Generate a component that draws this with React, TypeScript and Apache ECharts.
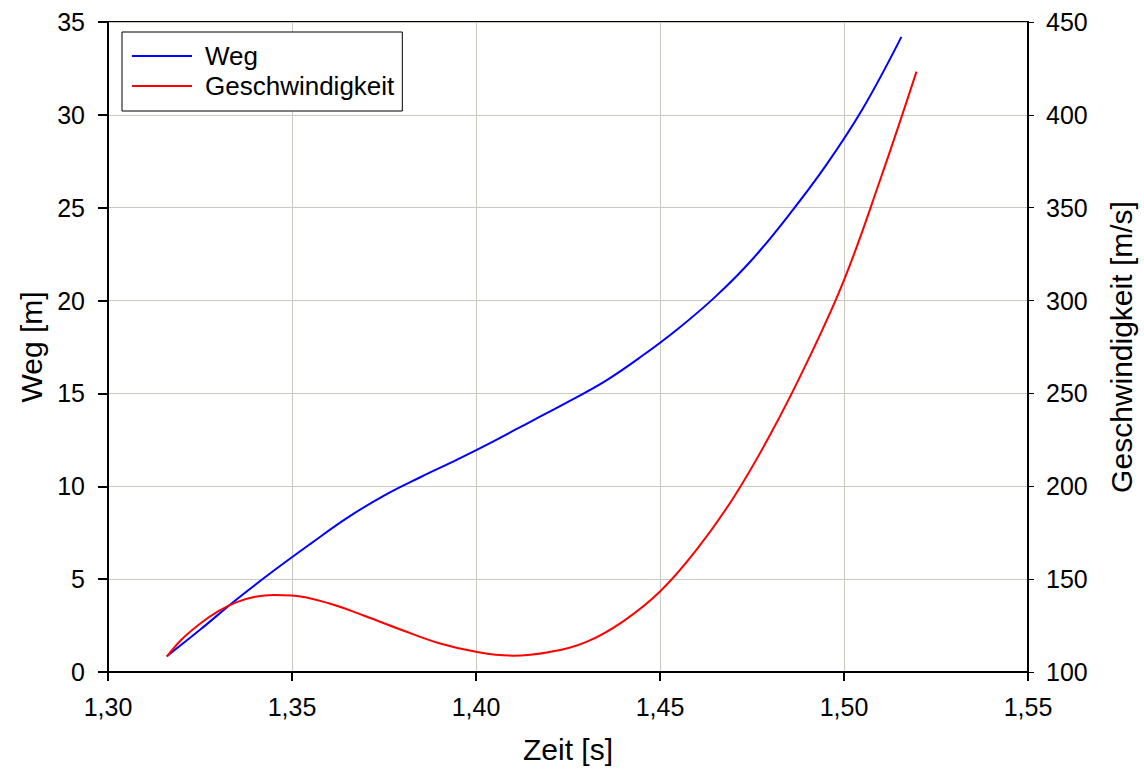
import React, { useEffect, useRef } from "react";
import * as echarts from "echarts";

const wegTime = [1.316, 1.325, 1.335, 1.345, 1.355, 1.365, 1.375, 1.385, 1.395, 1.405, 1.415, 1.425, 1.435, 1.445, 1.455, 1.465, 1.475, 1.485, 1.495, 1.505, 1.5156];
const wegValues = [0.85, 2.27, 3.92, 5.45, 6.9, 8.3, 9.5, 10.5, 11.45, 12.45, 13.5, 14.55, 15.65, 17.0, 18.5, 20.2, 22.2, 24.6, 27.25, 30.3, 34.2];

const vTime = [1.316, 1.32, 1.325, 1.33, 1.335, 1.34, 1.345, 1.35, 1.36, 1.37, 1.38, 1.39, 1.40, 1.41, 1.42, 1.43, 1.44, 1.45, 1.46, 1.47, 1.48, 1.49, 1.50, 1.51, 1.5197];
const vValues = [108.3, 117.5, 126, 132.8, 137.6, 140.5, 141.5, 141.2, 137, 130, 122.5, 115.5, 110.9, 108.8, 110.8, 116.2, 127.3, 143.3, 166, 194, 228, 267, 311, 366, 423.3];

const seriesNames = ["Weg", "Geschwindigkeit"];
const xTitle = "Zeit [s]";
const yLeftTitle = "Weg [m]";
const yRightTitle = "Geschwindigkeit [m/s]";

const FONT = "'Liberation Sans', Arial, sans-serif";

export default function App() {
  const ref = useRef<HTMLDivElement>(null);
  useEffect(() => {
    if (!ref.current) return;
    const chart = echarts.init(ref.current, undefined, { renderer: "svg" });
    const fmt = (v: number) => v.toFixed(2).replace(".", ",");
    chart.setOption({
      animation: false,
      backgroundColor: "#ffffff",
      textStyle: { fontFamily: FONT },
      grid: {
        left: 108,
        right: 116,
        top: 22,
        bottom: 100,
        show: true,
        borderColor: "#000",
        borderWidth: 2,
        backgroundColor: "transparent",
      },
      legend: {
        left: 122,
        top: 32,
        orient: "vertical",
        data: seriesNames,
        backgroundColor: "#fff",
        borderColor: "#000",
        borderWidth: 1,
        borderRadius: 0,
        padding: [11, 8, 12, 10],
        itemGap: 4,
        itemWidth: 60,
        itemHeight: 26,
        icon: "path://M0,12L60,12L60,14L0,14Z",
        textStyle: { fontSize: 26, color: "#000", fontFamily: FONT, padding: [0, 0, 0, 8] },
      },
      xAxis: {
        type: "value",
        min: 1.3,
        max: 1.55,
        interval: 0.05,
        name: xTitle,
        nameLocation: "middle",
        nameGap: 62,
        nameTextStyle: { fontSize: 30, color: "#000", fontFamily: FONT },
        axisLine: { show: true, lineStyle: { color: "#000", width: 2 } },
        axisTick: { show: true, inside: false, length: 9, lineStyle: { color: "#000", width: 2 } },
        axisLabel: { fontSize: 25, color: "#000", margin: 22, formatter: fmt, fontFamily: FONT },
        splitLine: { show: true, lineStyle: { color: "#c8c8c0", width: 1 } },
      },
      yAxis: [
        {
          type: "value",
          min: 0,
          max: 35,
          interval: 5,
          position: "left",
          name: yLeftTitle,
          nameLocation: "middle",
          nameRotate: 90,
          nameGap: 62,
          nameTextStyle: { fontSize: 30, color: "#000", fontFamily: FONT },
          axisLine: { show: true, lineStyle: { color: "#000", width: 2 } },
          axisTick: { show: true, inside: false, length: 10, lineStyle: { color: "#000", width: 2 } },
          axisLabel: { fontSize: 25, color: "#000", margin: 23, fontFamily: FONT },
          splitLine: { show: true, lineStyle: { color: "#c8c8c0", width: 1 } },
        },
        {
          type: "value",
          min: 100,
          max: 450,
          interval: 50,
          position: "right",
          name: yRightTitle,
          nameLocation: "middle",
          nameRotate: 90,
          nameGap: 78,
          nameTextStyle: { fontSize: 30, color: "#000", fontFamily: FONT },
          axisLine: { show: true, lineStyle: { color: "#000", width: 2 } },
          axisTick: { show: true, inside: false, length: 6, lineStyle: { color: "#000", width: 1 } },
          axisLabel: { fontSize: 25, color: "#000", margin: 18, fontFamily: FONT },
          splitLine: { show: false },
        },
      ],
      series: [
        {
          name: seriesNames[0],
          type: "line",
          yAxisIndex: 0,
          data: wegTime.map((t, i) => [t, wegValues[i]]),
          showSymbol: false,
          smooth: 0.4,
          lineStyle: { color: "#0000ff", width: 2 },
          itemStyle: { color: "#0000ff" },
        },
        {
          name: seriesNames[1],
          type: "line",
          yAxisIndex: 1,
          data: vTime.map((t, i) => [t, vValues[i]]),
          showSymbol: false,
          smooth: 0.4,
          lineStyle: { color: "#ff0000", width: 2 },
          itemStyle: { color: "#ff0000" },
        },
      ],
    });
    return () => chart.dispose();
  }, []);
  return (
    <div
      ref={ref}
      style={{ position: "absolute", left: 0, top: 0, width: 1144, height: 772 }}
    />
  );
}
